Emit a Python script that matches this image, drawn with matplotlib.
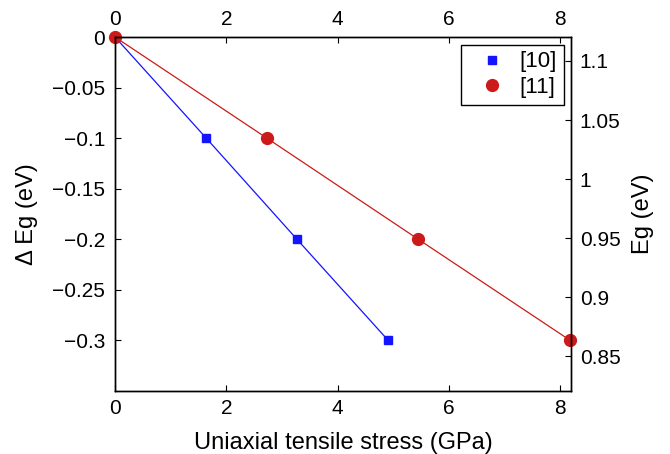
import matplotlib
matplotlib.use("Agg")
import matplotlib.pyplot as plt
from matplotlib.lines import Line2D

plt.rcParams['font.family'] = ['Liberation Sans', 'DejaVu Sans']

# data
stress_10 = [0, 1.64, 3.27, 4.91]
dEg_10 = [0, -0.1, -0.2, -0.3]
stress_11 = [0, 2.73, 5.45, 8.18]
dEg_11 = [0, -0.1, -0.2, -0.3]

left_ticks = [0, -0.05, -0.1, -0.15, -0.2, -0.25, -0.3]
left_labels = ['0', '\u22120.05', '\u22120.1', '\u22120.15', '\u22120.2', '\u22120.25', '\u22120.3']
right_ticks = [0.85, 0.9, 0.95, 1.0, 1.05, 1.1]
right_labels = ['0.85', '0.9', '0.95', '1', '1.05', '1.1']
x_ticks = [0, 2, 4, 6, 8]

blue = '#1414ff'
red = '#cc1a1a'
fs_tick = 15
fs_label = 17

fig = plt.figure(figsize=(6.7, 4.54), dpi=100)
ax = fig.add_axes([0.1716, 0.1388, 0.6811, 0.7797])

ax.plot(stress_10, dEg_10, color=blue, lw=0.9, marker='s', ms=6, mec=blue, mfc=blue)
ax.plot(stress_11, dEg_11, color=red, lw=0.9, marker='o', ms=8.5, mec=red, mfc=red,
        clip_on=False)

ax.set_xlim(0, 8.2)
ax.set_ylim(-0.35, 0)
ax.set_xticks(x_ticks)
ax.set_xticklabels([str(t) for t in x_ticks])
ax.set_yticks(left_ticks)
ax.set_yticklabels(left_labels)
ax.tick_params(direction='in', top=True, labeltop=True, labelsize=fs_tick, length=4, width=0.8)
ax.tick_params(axis='x', pad=6)
ax.tick_params(axis='y', pad=7)
ax.set_xlabel('Uniaxial tensile stress (GPa)', fontsize=fs_label, labelpad=9.5)
ax.set_ylabel('\u0394 Eg (eV)', fontsize=fs_label, labelpad=10)

ax2 = ax.twinx()
ax2.set_ylim(0.8207, 1.1203)
ax2.set_yticks(right_ticks)
ax2.set_yticklabels(right_labels)
ax2.tick_params(direction='in', labelsize=fs_tick, length=4, width=0.8, pad=6)
ax2.set_ylabel('Eg (eV)', fontsize=fs_label, labelpad=8)

for a in (ax, ax2):
    for s in a.spines.values():
        s.set_linewidth(1.0)

handles = [Line2D([], [], ls='none', marker='s', ms=6, color=blue),
           Line2D([], [], ls='none', marker='o', ms=8.5, color=red)]
leg = ax2.legend(handles, ['[10]', '[11]'], loc='upper right', fontsize=16,
                 fancybox=False, edgecolor='black', framealpha=1,
                 borderaxespad=0.35, handletextpad=0.15, labelspacing=0.2,
                 borderpad=0.3, handlelength=2.2)
leg.get_frame().set_linewidth(1.0)

fig.savefig('out.png', dpi=100)
